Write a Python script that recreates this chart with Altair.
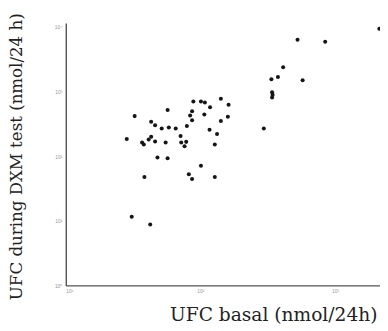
import altair as alt
import pandas as pd

# Basal UFC (x) and UFC during DXM test (y), nmol/24h
ufc_basal = [30.9, 42.4, 38.4, 28.4, 32.5, 57.1, 43.1, 46.1, 51.6, 58.3,
             65.6, 79.4, 86.8, 83.9, 86.8, 88.7, 101, 108, 118, 142,
             162, 107, 160, 142, 117, 133, 128, 71.3, 72.1, 78.5,
             76.3, 55.2, 46.1, 43.1, 41.3, 36.9, 38.0, 48.0, 57.1, 101,
             82.1, 86.8, 128, 296, 341, 344, 341, 337, 377, 412,
             575, 527, 846, 2135]
ufc_dxm = [11.6, 8.8, 47.6, 185, 418, 521, 343, 302, 268, 278,
           268, 295, 360, 428, 498, 705, 705, 681, 572, 775,
           629, 444, 408, 351, 257, 221, 152, 206, 163, 167,
           143, 163, 169, 201, 181, 163, 152, 95.5, 93.3, 71.3,
           52.8, 44.4, 47.6, 268, 976, 891, 811, 1557, 1688, 2393,
           1504, 6353, 5929, 9426]

x_ticks = [10, 100, 1000]
y_ticks = [1, 10, 100, 1000, 10000]

df = pd.DataFrame({"basal": ufc_basal, "dxm": ufc_dxm})

label_expr = ("datum.value >= 10000 ? '10⁴' : datum.value >= 1000 ? '10³' : "
              "datum.value >= 100 ? '10²' : datum.value >= 10 ? '10¹' : '10⁰'")

chart = alt.Chart(df).mark_point(filled=True, shape="circle", size=17,
                                 color="#151515", opacity=1).encode(
    x=alt.X("basal:Q",
            scale=alt.Scale(type="log", domain=[10, 2160], nice=False, zero=False),
            axis=alt.Axis(values=x_ticks, grid=False, ticks=False,
                          domainColor="#555", domainWidth=1.3,
                          labelFontSize=5, labelColor="#999", labelPadding=3,
                          labelExpr=label_expr,
                          title="UFC basal (nmol/24h)",
                          titleFont="DejaVu Serif", titleFontSize=19,
                          titleFontWeight="normal", titleColor="#222",
                          titleAnchor="start", titleAlign="center",
                          titleBaseline="top", titleX=212, titleY=21)),
    y=alt.Y("dxm:Q",
            scale=alt.Scale(type="log", domain=[1, 11497], nice=False, zero=False),
            axis=alt.Axis(values=y_ticks, grid=False, ticks=False,
                          domainColor="#333", domainWidth=1.2,
                          labelFontSize=5, labelColor="#999", labelPadding=4,
                          labelExpr=label_expr,
                          title="UFC during DXM test (nmol/24 h)",
                          titleFont="DejaVu Serif", titleFontSize=17,
                          titleFontWeight="normal", titleColor="#222",
                          titleAngle=-90, titleAlign="center",
                          titleBaseline="top", titleX=-58, titleY=136)),
).properties(
    width=321, height=268,
    autosize=alt.AutoSizeParams(type="none"),
    padding={"left": 59, "top": 12, "right": 0, "bottom": 40},
).configure_view(stroke=None)

chart.save("out.html", embed_options={"renderer": "svg", "actions": False})
